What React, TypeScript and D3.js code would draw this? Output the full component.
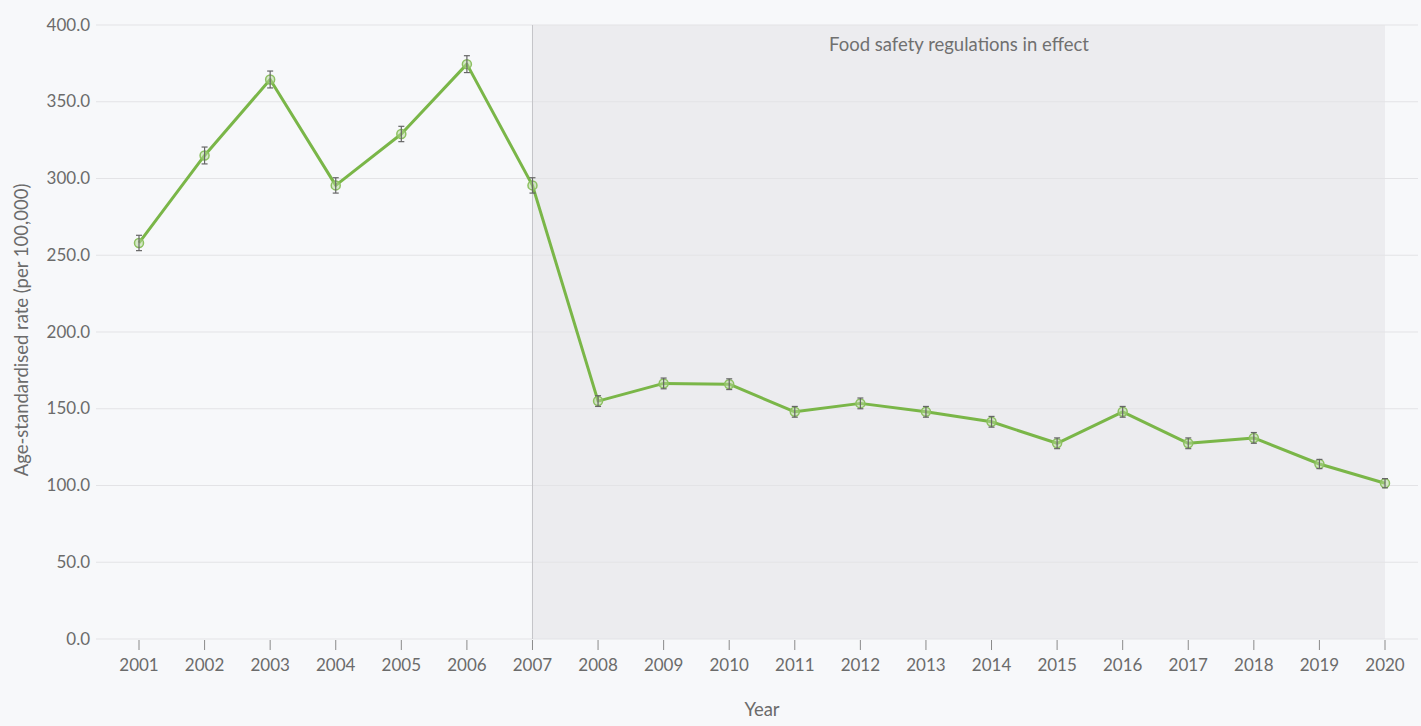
import React from "react";
import * as d3 from "d3";

const years = ["2001","2002","2003","2004","2005","2006","2007","2008","2009","2010","2011","2012","2013","2014","2015","2016","2017","2018","2019","2020"];
const rates = [258, 315, 364.5, 295.5, 329, 374.5, 295.5, 155, 166.5, 166, 148, 153.5, 148, 141.5, 127.5, 148, 127.5, 131, 114, 101.5];
const errLow = [5, 5.5, 5.5, 5, 5, 5.5, 5, 3.5, 3.5, 3.5, 3.5, 3.5, 3.5, 3.5, 3.5, 3.5, 3.5, 3.5, 3, 3];
const errHigh = [5, 5.5, 5.5, 5, 5, 5.5, 5, 3.5, 3.5, 3.5, 3.5, 3.5, 3.5, 3.5, 3.5, 3.5, 3.5, 3.5, 3, 3];
const yTicks = [0, 50, 100, 150, 200, 250, 300, 350, 400];
const regulationStart = "2007";
const regulationEnd = "2020";
const regulationLabel = "Food safety regulations in effect";

const W = 1421, H = 726;
const gridLeft = 96, gridRight = 1418;
const firstX = 139, lastX = 1385;
const top = 25, bottom = 639;

export default function App() {
  const x = d3.scalePoint<string>().domain(years).range([firstX, lastX]).padding(0);
  const y = d3.scaleLinear().domain([0, 400]).range([bottom, top]);
  const line = d3.line<number>().x((_, i) => x(years[i])!).y((d) => y(d));
  const font = "Lato, 'Noto Sans', sans-serif";
  const textColor = "#6b6b6b";
  const x0 = x(regulationStart)!;
  const x1 = x(regulationEnd)!;
  return (
    <svg width={W} height={H} style={{ position: "absolute", left: 0, top: 0, background: "#f7f8fa" }} fontFamily={font}>
      <rect x={0} y={0} width={W} height={H} fill="#f7f8fa" />
      <rect x={x0} y={y(400)} width={x1 - x0} height={y(0) - y(400)} fill="#ececef" />
      {yTicks.map((t) => (
        <g key={t}>
          <line x1={gridLeft} x2={gridRight} y1={y(t)} y2={y(t)} stroke="#e3e3e6" strokeWidth={1} />
          <text x={gridLeft - 6} y={y(t)} dy="0.33em" textAnchor="end" fontSize={17} fill={textColor}>{t.toFixed(1)}</text>
        </g>
      ))}
      <line x1={x0} x2={x0} y1={y(400)} y2={y(0)} stroke="#c4c4c8" strokeWidth={1} />
      <text x={959} y={y(400) + 26} textAnchor="middle" fontSize={18.5} fill="#707070">{regulationLabel}</text>
      {years.map((yr) => (
        <g key={yr}>
          <line x1={x(yr)} x2={x(yr)} y1={y(0) + 1} y2={y(0) + 11} stroke="#8a8a8a" strokeWidth={1} />
          <text x={x(yr)} y={y(0) + 32} textAnchor="middle" fontSize={17} fill={textColor}>{yr}</text>
        </g>
      ))}
      <text x={762} y={H - 10} textAnchor="middle" fontSize={18.5} fill={textColor}>Year</text>
      <text transform={`translate(${28},${330}) rotate(-90)`} textAnchor="middle" fontSize={18.5} fill={textColor}>Age-standardised rate (per 100,000)</text>
      <path d={line(rates) || ""} fill="none" stroke="#7ab648" strokeWidth={3} strokeLinejoin="round" />
      {rates.map((v, i) => {
        const cx = x(years[i])!;
        return (
          <g key={i}>
            <circle cx={cx} cy={y(v)} r={4.5} fill="rgba(180,215,150,0.5)" stroke="#8cc060" strokeWidth={1.5} />
            <line x1={cx} x2={cx} y1={y(v - errLow[i])} y2={y(v + errHigh[i])} stroke="#666" strokeWidth={1.2} />
            <line x1={cx - 3} x2={cx + 3} y1={y(v - errLow[i])} y2={y(v - errLow[i])} stroke="#666" strokeWidth={1.2} />
            <line x1={cx - 3} x2={cx + 3} y1={y(v + errHigh[i])} y2={y(v + errHigh[i])} stroke="#666" strokeWidth={1.2} />
          </g>
        );
      })}
    </svg>
  );
}
